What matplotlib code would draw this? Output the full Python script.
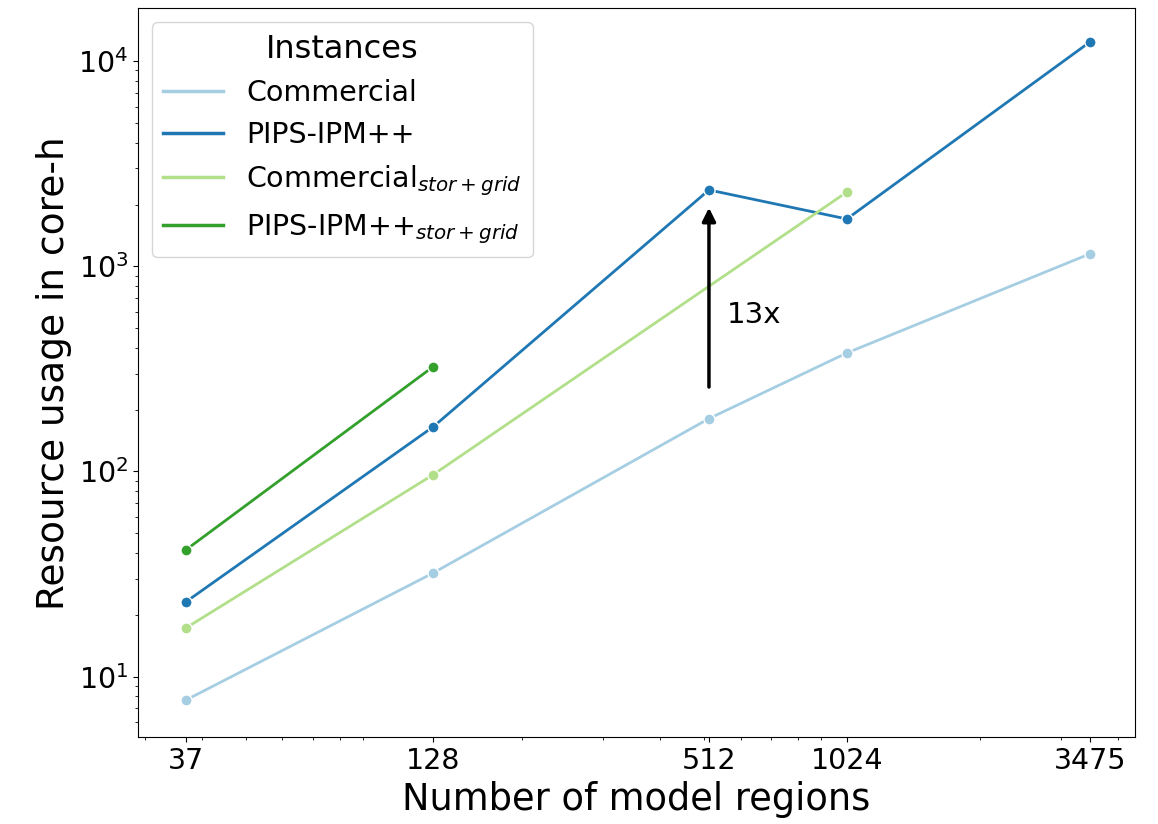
import matplotlib.pyplot as plt
from matplotlib.lines import Line2D
from matplotlib.ticker import FixedLocator, FixedFormatter, NullFormatter, LogLocator

# number of model regions per instance
regions = [37, 128, 512, 1024, 3475]
regions_sg_comm = [37, 128, 1024]
regions_sg_pips = [37, 128]

# resource usage in core-h
commercial = [7.7, 32, 181, 378, 1150]
pips = [23.2, 165, 2355, 1700, 12400]
commercial_sg = [17.3, 96.4, 2300]
pips_sg = [41.6, 324]

labels = ['Commercial', 'PIPS-IPM++', r'Commercial$_{stor+grid}$', r'PIPS-IPM++$_{stor+grid}$']
colors = ['#a6cee3', '#1f78b4', '#b2df8a', '#33a02c']

fig, ax = plt.subplots(figsize=(11.58, 8.24), dpi=100)

style = dict(linewidth=2, marker='o', markersize=8, markeredgecolor='white', markeredgewidth=1)
ax.plot(regions, commercial, color=colors[0], **style)
ax.plot(regions, pips, color=colors[1], **style)
ax.plot(regions_sg_comm, commercial_sg, color=colors[2], **style)
ax.plot(regions_sg_pips, pips_sg, color=colors[3], **style)

ax.set_xscale('log')
ax.set_yscale('log')
ax.set_xlim(29, 4355)
ax.set_ylim(5.05, 18100)

ax.xaxis.set_major_locator(FixedLocator(regions))
ax.xaxis.set_major_formatter(FixedFormatter([str(r) for r in regions]))
ax.xaxis.set_minor_locator(LogLocator(base=10, subs=range(2, 10)))
ax.xaxis.set_minor_formatter(NullFormatter())

# speedup arrow between commercial and PIPS at 512 regions
ax.annotate('', xy=(512, 1990), xytext=(512, 250),
            arrowprops=dict(arrowstyle='-|>', color='black', lw=2.5, mutation_scale=20))
ax.text(560, 580, '13x', fontsize=21, va='center')

ax.tick_params(axis='both', which='major', labelsize=20.5)
ax.set_xlabel('Number of model regions', fontsize=26.5)
ax.set_ylabel('Resource usage in core-h', fontsize=27)

# legend shows lines only
handles = [Line2D([], [], color=c, linewidth=2.5) for c in colors]
leg = ax.legend(handles, labels, title='Instances', fontsize=20.5, title_fontsize=23,
                loc='upper left', handlelength=2.1, labelspacing=0.5)

fig.subplots_adjust(left=0.119, right=0.98, top=0.99, bottom=0.105)
plt.savefig('out.png', dpi=100)
